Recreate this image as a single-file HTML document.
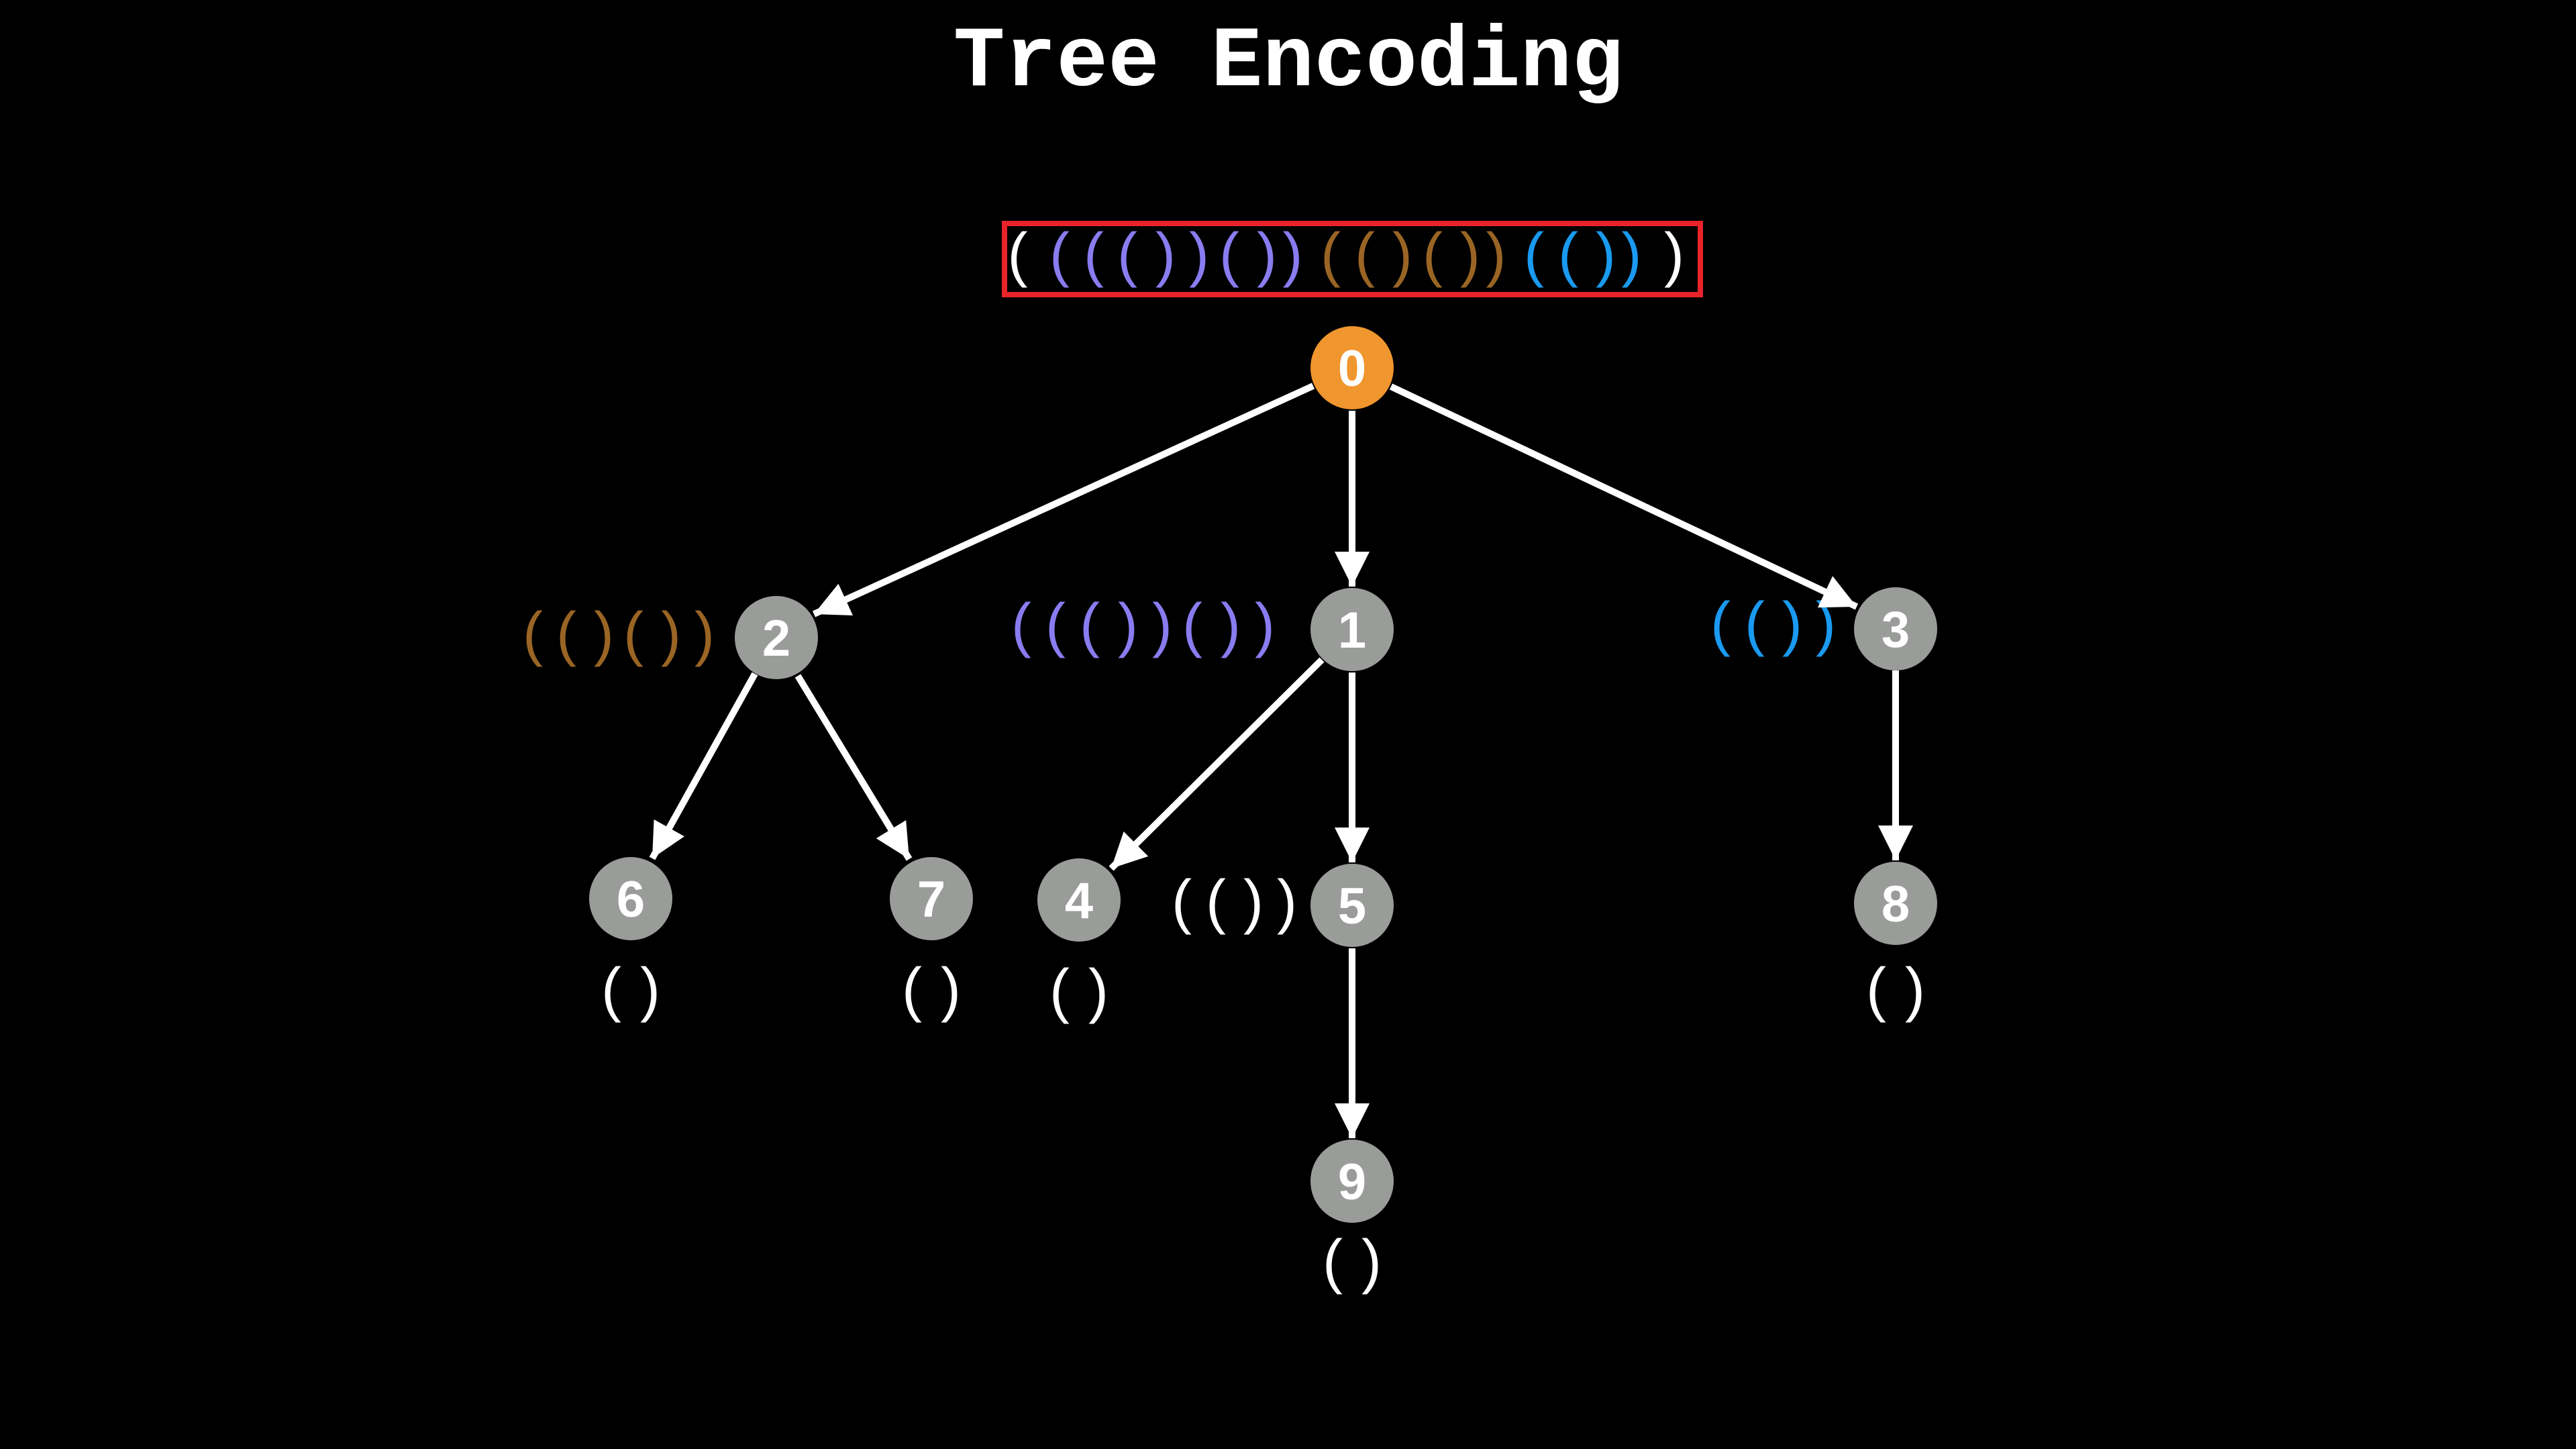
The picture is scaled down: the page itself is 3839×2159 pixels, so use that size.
<!DOCTYPE html>
<html><head><meta charset="utf-8"><style>
html,body{margin:0;padding:0;background:#000;}
svg{display:block}
</style></head><body>
<svg width="3839" height="2159" viewBox="0 0 3839 2159" xmlns="http://www.w3.org/2000/svg">
<defs>
<marker id="ah" markerUnits="userSpaceOnUse" markerWidth="70" markerHeight="70" refX="52" refY="26" orient="auto">
<path d="M0,0 L52,26 L0,52 Z" fill="#fff"/>
</marker>
</defs>
<rect width="3839" height="2159" fill="#000"/>
<text x="1920" y="127" text-anchor="middle" font-family="Liberation Mono, monospace" font-weight="bold" font-size="128" fill="#fff">Tree Encoding</text>

<rect x="1497" y="333" width="1037" height="106" fill="none" stroke="#e8242a" stroke-width="8"/>
<g font-family="Liberation Sans, sans-serif" font-size="90" text-anchor="middle">
<text y="410">
<tspan x="1529" fill="#fff">(</tspan>
<tspan x="1579" fill="#8a7cf0">(</tspan><tspan x="1630" fill="#8a7cf0">(</tspan><tspan x="1680" fill="#8a7cf0">(</tspan><tspan x="1737" fill="#8a7cf0">)</tspan><tspan x="1787" fill="#8a7cf0">)</tspan><tspan x="1832" fill="#8a7cf0">(</tspan><tspan x="1888" fill="#8a7cf0">)</tspan><tspan x="1939" fill="#8a7cf0">)</tspan>
<tspan x="1983" fill="#9a6524">(</tspan><tspan x="2034" fill="#9a6524">(</tspan><tspan x="2090" fill="#9a6524">)</tspan><tspan x="2135" fill="#9a6524">(</tspan><tspan x="2191" fill="#9a6524">)</tspan><tspan x="2242" fill="#9a6524">)</tspan>
<tspan x="2286" fill="#1a9af0">(</tspan><tspan x="2337" fill="#1a9af0">(</tspan><tspan x="2393" fill="#1a9af0">)</tspan><tspan x="2444" fill="#1a9af0">)</tspan>
<tspan x="2495" fill="#fff">)</tspan>
</text>

<text y="975" fill="#9a6524"><tspan x="794">(</tspan><tspan x="844">(</tspan><tspan x="900">)</tspan><tspan x="944">(</tspan><tspan x="1000">)</tspan><tspan x="1050">)</tspan></text>
<text y="962" fill="#8a7cf0"><tspan x="1522">(</tspan><tspan x="1573">(</tspan><tspan x="1624">(</tspan><tspan x="1681">)</tspan><tspan x="1732">)</tspan><tspan x="1777">(</tspan><tspan x="1834">)</tspan><tspan x="1885">)</tspan></text>
<text y="960" fill="#1a9af0"><tspan x="2564">(</tspan><tspan x="2615">(</tspan><tspan x="2671">)</tspan><tspan x="2721">)</tspan></text>
<text y="1374" fill="#fff"><tspan x="1761">(</tspan><tspan x="1812">(</tspan><tspan x="1868">)</tspan><tspan x="1918">)</tspan></text>
<text y="1505" fill="#fff"><tspan x="911">(</tspan><tspan x="969">)</tspan></text>
<text y="1505" fill="#fff"><tspan x="1359">(</tspan><tspan x="1417">)</tspan></text>
<text y="1507" fill="#fff"><tspan x="1579">(</tspan><tspan x="1637">)</tspan></text>
<text y="1505" fill="#fff"><tspan x="2796">(</tspan><tspan x="2854">)</tspan></text>
<text y="1910" fill="#fff"><tspan x="1986">(</tspan><tspan x="2044">)</tspan></text>
</g>

<g stroke="#fff" stroke-width="10" marker-end="url(#ah)">
<line x1="1957" y1="575" x2="1213" y2="915"/>
<line x1="2015" y1="612" x2="2015" y2="874"/>
<line x1="2073" y1="576" x2="2767" y2="904"/>
<line x1="1125" y1="1004" x2="972" y2="1279"/>
<line x1="1189" y1="1007" x2="1355" y2="1280"/>
<line x1="1970" y1="983" x2="1656" y2="1294"/>
<line x1="2015" y1="1002" x2="2015" y2="1285"/>
<line x1="2825" y1="999" x2="2825" y2="1282"/>
<line x1="2015" y1="1413" x2="2015" y2="1696"/>
</g>

<g font-family="Liberation Sans, sans-serif" font-weight="bold" font-size="76" text-anchor="middle" fill="#fff">
<circle cx="2015" cy="548" r="62" fill="#f0962e"/><text x="2015" y="575">0</text>
<circle cx="2015" cy="938" r="62" fill="#9a9c9a"/><text x="2015" y="965">1</text>
<circle cx="1157" cy="950" r="62" fill="#9a9c9a"/><text x="1157" y="977">2</text>
<circle cx="2825" cy="937" r="62" fill="#9a9c9a"/><text x="2825" y="964">3</text>
<circle cx="1608" cy="1341" r="62" fill="#9a9c9a"/><text x="1608" y="1368">4</text>
<circle cx="2015" cy="1349" r="62" fill="#9a9c9a"/><text x="2015" y="1376">5</text>
<circle cx="940" cy="1339" r="62" fill="#9a9c9a"/><text x="940" y="1366">6</text>
<circle cx="1388" cy="1339" r="62" fill="#9a9c9a"/><text x="1388" y="1366">7</text>
<circle cx="2825" cy="1346" r="62" fill="#9a9c9a"/><text x="2825" y="1373">8</text>
<circle cx="2015" cy="1760" r="62" fill="#9a9c9a"/><text x="2015" y="1787">9</text>
</g>
</svg>
</body></html>
